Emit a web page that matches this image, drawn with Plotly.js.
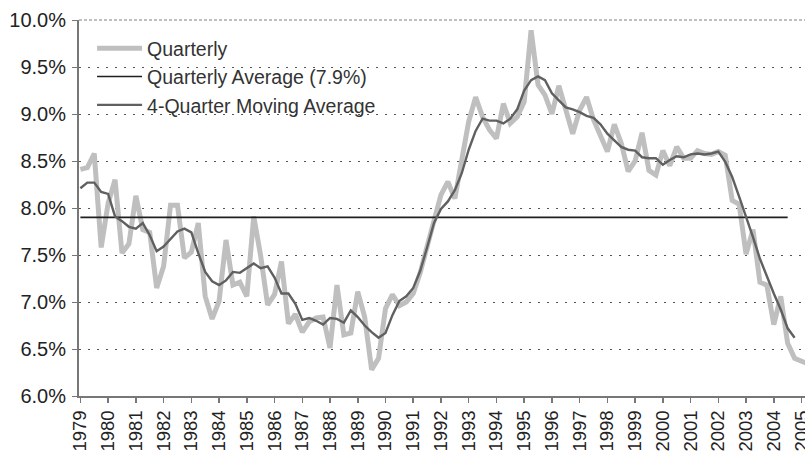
<!DOCTYPE html>
<html>
<head>
<meta charset="utf-8">
<script src="https://cdn.plot.ly/plotly-3.0.1.min.js"></script>
<style>
html,body{margin:0;padding:0;background:#fff;}
#chart{width:805px;height:452px;}
</style>
</head>
<body>
<div id="chart"></div>
<script>
// Quarterly values, 1979 Q1 onward (percent)
const quarterly = [
  8.41, 8.43, 8.58, 7.58, 8.05, 8.30, 7.52, 7.62, 8.13, 7.77,
  7.74, 7.15, 7.38, 8.03, 8.03, 7.47, 7.53, 7.84, 7.06, 6.82,
  7.01, 7.66, 7.18, 7.21, 7.06, 7.91, 7.49, 6.97, 7.08, 7.43,
  6.77, 6.87, 6.68, 6.79, 6.83, 6.84, 6.51, 7.18, 6.65, 6.67,
  7.11, 6.84, 6.28, 6.40, 6.93, 7.08, 6.96, 7.00, 7.09, 7.31,
  7.59, 7.87, 8.14, 8.28, 8.10, 8.51, 8.92, 9.18, 8.97, 8.83,
  8.74, 9.11, 8.90, 8.97, 9.13, 9.89, 9.31, 9.20, 9.00, 9.30,
  9.06, 8.79, 9.04, 9.18, 8.94, 8.77, 8.60, 8.89, 8.69, 8.39,
  8.50, 8.80, 8.40, 8.35, 8.61, 8.45, 8.65, 8.53, 8.53, 8.61,
  8.58, 8.57, 8.60, 8.56, 8.08, 8.04, 7.51, 7.77, 7.21, 7.18,
  6.76, 7.06, 6.56, 6.40, 6.37, 6.34
];
// 4-quarter moving average (percent)
const movingAverage = [
  8.21, 8.27, 8.27, 8.17, 8.15, 7.91, 7.86, 7.80, 7.78, 7.84,
  7.71, 7.54, 7.59, 7.67, 7.75, 7.78, 7.74, 7.52, 7.32, 7.22,
  7.18, 7.23, 7.32, 7.31, 7.36, 7.41, 7.36, 7.38, 7.26, 7.09,
  7.09, 6.98, 6.81, 6.83, 6.80, 6.76, 6.83, 6.82, 6.78, 6.91,
  6.84, 6.75, 6.68, 6.62, 6.67, 6.86, 7.01, 7.06, 7.15, 7.33,
  7.58, 7.84, 7.99, 8.07, 8.19, 8.37, 8.62, 8.82, 8.95, 8.93,
  8.93, 8.90, 8.95, 9.05, 9.25, 9.36, 9.40, 9.36, 9.22, 9.14,
  9.07, 9.05, 9.02, 8.98, 8.96, 8.89, 8.79, 8.72, 8.65, 8.62,
  8.61, 8.54, 8.53, 8.53, 8.46, 8.51, 8.55, 8.54, 8.57, 8.58,
  8.57, 8.58, 8.60, 8.49, 8.33, 8.12, 7.91, 7.69, 7.46, 7.27,
  7.09, 6.92, 6.72, 6.62
];
// Quarterly average over the period (percent) and number of quarters it spans
const averageValue = 7.9;
const averageQuarters = 103;
// Year labels, one every 4 quarters
const years = ["1979","1980","1981","1982","1983","1984","1985","1986","1987","1988",
  "1989","1990","1991","1992","1993","1994","1995","1996","1997","1998","1999","2000",
  "2001","2002","2003","2004","2005"];
const seriesNames = ["Quarterly", "Quarterly Average (7.9%)", "4-Quarter Moving Average"];

const idx = n => Array.from({length: n}, (_, i) => i);
const FONT = "Liberation Sans, Arial, sans-serif";

const traces = [
  {x: idx(quarterly.length), y: quarterly, name: seriesNames[0], type: "scatter", mode: "lines",
   line: {color: "#bfbfbf", width: 5}, hoverinfo: "skip"},
  {x: idx(averageQuarters), y: idx(averageQuarters).map(() => averageValue), name: seriesNames[1],
   type: "scatter", mode: "lines", line: {color: "#1f1f1f", width: 1.6}, hoverinfo: "skip"},
  {x: idx(movingAverage.length), y: movingAverage, name: seriesNames[2], type: "scatter", mode: "lines",
   line: {color: "#606060", width: 2.4}, hoverinfo: "skip"}
];

const layout = {
  width: 805, height: 452,
  margin: {l: 79, r: 0, t: 20, b: 56, pad: 0},
  paper_bgcolor: "#fff", plot_bgcolor: "#fff",
  font: {family: FONT, size: 20, color: "#222"},
  showlegend: true,
  legend: {x: 0.018, y: 0.976, xanchor: "left", yanchor: "top", bgcolor: "rgba(0,0,0,0)",
           borderwidth: 0, itemwidth: 45, font: {family: FONT, size: 19.5, color: "#333"}, tracegroupgap: 0},
  xaxis: {
    range: [-0.2, 104.5], showgrid: false, zeroline: false,
    showline: true, linecolor: "#777", linewidth: 2,
    ticks: "outside", ticklen: 5, tickcolor: "#777", tickwidth: 1.5,
    tickmode: "array", tickvals: years.map((_, i) => i * 4), ticktext: years,
    tickangle: -90, ticklabelstandoff: 0, ticklabeloverflow: "allow",
    tickfont: {family: FONT, size: 18.5, color: "#222"}
  },
  yaxis: {
    range: [6, 10], dtick: 0.5, tick0: 6, tickformat: ".1f", ticksuffix: "%",
    showgrid: true, gridcolor: "#555", gridwidth: 1, griddash: "2px,7px",
    zeroline: false, showline: true, linecolor: "#777", linewidth: 2,
    ticks: "outside", ticklen: 5, tickcolor: "#777", tickwidth: 1,
    ticklabelstandoff: 2,
    tickfont: {family: FONT, size: 20, color: "#222"}
  },
  shapes: [
    {type: "line", xref: "paper", yref: "paper", x0: 0, x1: 1, y0: 1, y1: 1,
     line: {color: "#aaa", width: 1.5, dash: "3px,2px"}}
  ]
};

Plotly.newPlot("chart", traces, layout, {displayModeBar: false, staticPlot: true});
</script>
</body>
</html>
